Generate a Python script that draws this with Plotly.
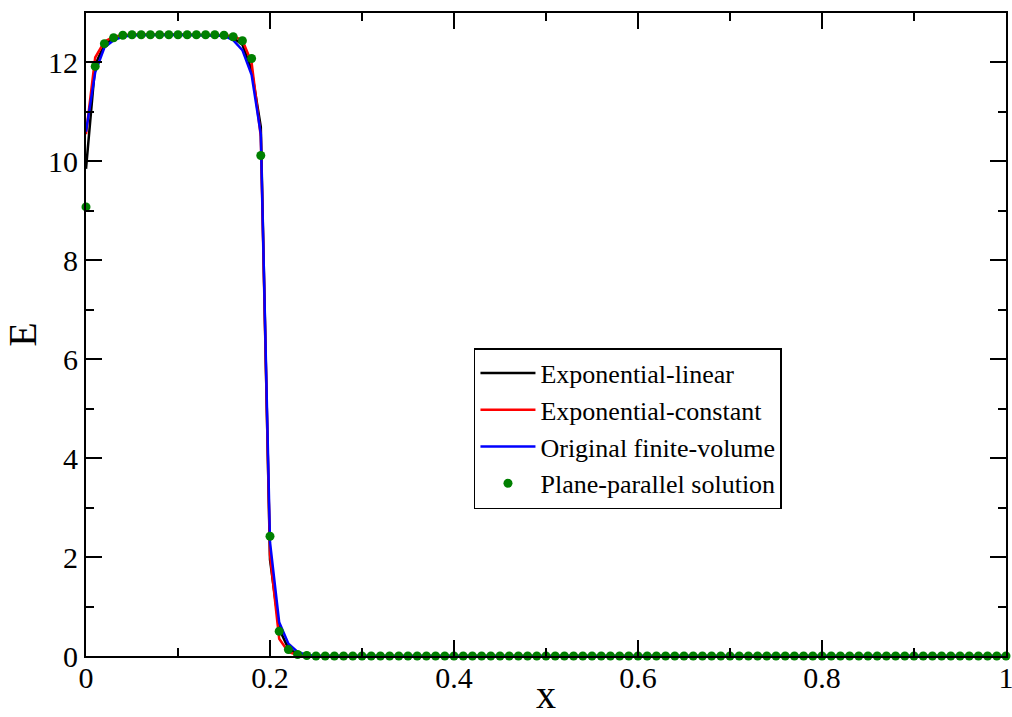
import plotly.graph_objects as go

# grid for all series
x_pts = [round(i * 0.01, 2) for i in range(101)]

plane_parallel = [9.08, 11.92, 12.38, 12.50, 12.55, 12.56, 12.56, 12.56, 12.56, 12.56,
                  12.56, 12.56, 12.56, 12.56, 12.56, 12.55, 12.52, 12.44, 12.08, 10.12,
                  2.42, 0.50, 0.13, 0.03, 0.01] + [0.0] * 76

x_lines = [0.0, 0.01, 0.02, 0.03, 0.04, 0.05, 0.10, 0.15, 0.16, 0.17, 0.18, 0.19,
           0.20, 0.21, 0.22, 0.23, 0.24, 0.25, 0.30, 1.0]
exp_linear = [9.85, 11.95, 12.36, 12.50, 12.54, 12.56, 12.56, 12.55, 12.50, 12.36, 11.85, 10.70,
              1.95, 0.55, 0.15, 0.04, 0.01, 0.0, 0.0, 0.0]
exp_constant = [10.55, 12.10, 12.42, 12.52, 12.55, 12.56, 12.56, 12.55, 12.53, 12.45, 12.00, 10.50,
                2.05, 0.35, 0.08, 0.02, 0.0, 0.0, 0.0, 0.0]
orig_fv = [10.60, 11.80, 12.30, 12.45, 12.52, 12.55, 12.56, 12.54, 12.45, 12.25, 11.75, 10.55,
           2.30, 0.68, 0.25, 0.08, 0.02, 0.0, 0.0, 0.0]

FONT = "Liberation Serif, Times New Roman, serif"

fig = go.Figure()
fig.add_trace(go.Scatter(x=x_lines, y=exp_linear, mode="lines", name="Exponential-linear",
                         line=dict(color="black", width=2.5)))
fig.add_trace(go.Scatter(x=x_lines, y=exp_constant, mode="lines", name="Exponential-constant",
                         line=dict(color="red", width=2.5)))
fig.add_trace(go.Scatter(x=x_lines, y=orig_fv, mode="lines", name="Original finite-volume",
                         line=dict(color="blue", width=2.5)))
fig.add_trace(go.Scatter(x=x_pts, y=plane_parallel, mode="markers", name="Plane-parallel solution",
                         marker=dict(color="#008000", size=9), cliponaxis=False))

axis_common = dict(showgrid=False, zeroline=False, showline=True, linecolor="black", linewidth=2,
                   mirror="allticks", ticks="inside", ticklen=16, tickwidth=1.5, tickcolor="black",
                   automargin=False, ticklabeloverflow="allow",
                   tickfont=dict(family=FONT, size=30, color="black"))

fig.update_xaxes(range=[0, 1], dtick=0.2, tick0=0, ticklabelstandoff=-6,
                 minor=dict(dtick=0.1, ticks="inside", ticklen=8, tickcolor="black", tickwidth=1.5),
                 title=dict(text="x", font=dict(family=FONT, size=40, color="black"), standoff=12),
                 **axis_common)
fig.update_yaxes(range=[0, 13], dtick=2, tick0=0,
                 minor=dict(dtick=1, ticks="inside", ticklen=8, tickcolor="black", tickwidth=1.5),
                 title=dict(text="E", font=dict(family=FONT, size=40, color="black"), standoff=16),
                 **axis_common)

fig.update_layout(
    width=1012, height=717,
    margin=dict(l=86, r=6, t=13, b=61),
    plot_bgcolor="white", paper_bgcolor="white",
    showlegend=True,
    legend=dict(x=0.4217, y=0.479, xanchor="left", yanchor="top",
                bordercolor="black", borderwidth=1.5, bgcolor="white",
                font=dict(family=FONT, size=26, color="black"),
                tracegroupgap=0, itemwidth=55),
)

fig.write_html("out.html")
